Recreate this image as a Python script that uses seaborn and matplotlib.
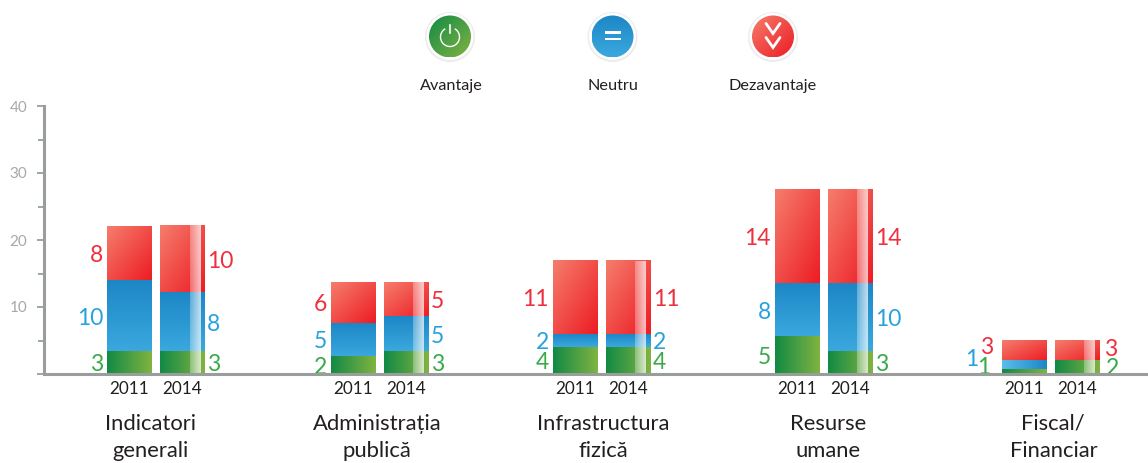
import numpy as np
import pandas as pd
import matplotlib
matplotlib.use("Agg")
import matplotlib.pyplot as plt
from matplotlib.patches import Circle, Arc, Rectangle
from matplotlib.colors import to_rgb
import seaborn as sns

categories = ["Indicatori\ngenerali", "Administrația\npublică", "Infrastructura\nfizică",
              "Resurse\numane", "Fiscal/\nFinanciar"]
years = ["2011", "2014"]
series = ["Avantaje", "Neutru", "Dezavantaje"]

# segment heights (group order, 2011 then 2014)
avantaje_2011 = [3.4, 2.6, 4.0, 5.6, 0.7]
avantaje_2014 = [3.4, 3.4, 4.0, 3.4, 2.0]
neutru_2011 = [10.5, 5.0, 1.9, 7.9, 1.3]
neutru_2014 = [8.7, 5.1, 1.9, 10.1, 0.0]
dezavantaje_2011 = [8.2, 6.1, 10.9, 14.1, 3.1]
dezavantaje_2014 = [10.0, 5.2, 10.9, 14.1, 3.1]

# printed value labels
lab_avantaje_2011 = ["3", "2", "4", "5", "1"]
lab_avantaje_2014 = ["3", "3", "4", "3", "2"]
lab_neutru_2011 = ["10", "5", "2", "8", "1"]
lab_neutru_2014 = ["8", "5", "2", "10", ""]
lab_dezavantaje_2011 = ["8", "6", "11", "14", "3"]
lab_dezavantaje_2014 = ["10", "5", "11", "14", "3"]

W, H = 1148, 463
AX_L, AX_B_PX, AX_T_PX = 44, 374, 106
GROUP_PX = 223.0
group_pos = [0.0, 1.004, 1.999, 2.994, 4.012]
label_shift = [-0.024, -0.012, 0.005, 0.02, 0.012]
HALF_GAP = 26.5 / GROUP_PX

sns.set_theme(style="white")
plt.rcParams["font.family"] = ["Lato", "DejaVu Sans"]

fig = plt.figure(figsize=(W / 100, H / 100), dpi=100, facecolor="white")
ax = fig.add_axes([AX_L / W, (H - AX_B_PX) / H, (W - AX_L) / W, (AX_B_PX - AX_T_PX) / H])

rows = []
stack_2011 = (avantaje_2011, neutru_2011, dezavantaje_2011)
stack_2014 = (avantaje_2014, neutru_2014, dezavantaje_2014)
for g, p in enumerate(group_pos):
    for sign, stack in ((-1, stack_2011), (1, stack_2014)):
        cum = 0.0
        for name, vals in zip(series, stack):
            cum += vals[g]
            rows.append({"pos": p + sign * HALF_GAP, "kind": name, "cum": cum})
df = pd.DataFrame(rows)

GREY = "#999e9d"
palette = {"Avantaje": "#4c9a44", "Neutru": "#2a97d3", "Dezavantaje": "#f0503f"}
sns.barplot(data=df, x="pos", y="cum", hue="kind", hue_order=series[::-1], palette=palette,
            native_scale=True, dodge=False, width=45 / 53, errorbar=None, legend=False,
            saturation=1, ax=ax)

xlim = ((AX_L - 156) / GROUP_PX, (W - 156) / GROUP_PX)


def gradient(tl, br, tr=None, bl=None, n=48):
    tl, br = np.array(to_rgb(tl)), np.array(to_rgb(br))
    tr = (tl + br) / 2 if tr is None else np.array(to_rgb(tr))
    bl = (tl + br) / 2 if bl is None else np.array(to_rgb(bl))
    u, v = np.meshgrid(np.linspace(0, 1, n), np.linspace(0, 1, n))
    u, v = u[..., None], v[..., None]
    return (1 - u) * (1 - v) * tl + u * (1 - v) * tr + (1 - u) * v * bl + u * v * br


grad = {
    "Dezavantaje": gradient("#f57d6c", "#ed1c24"),
    "Neutru": gradient("#1d87c6", "#3aa8de", tr="#1d87c6", bl="#3aa8de"),
    "Avantaje": gradient("#128a45", "#80b341", tr="#80b341", bl="#128a45"),
}
small_blue = gradient("#5bbdea", "#1d87c6", tr="#1d87c6", bl="#5bbdea")

containers = ax.containers
order = series[::-1]
for i, kind in enumerate(order):
    for j, bar in enumerate(containers[i]):
        top = bar.get_height()
        bottom = containers[i + 1][j].get_height() if i + 1 < len(order) else 0.0
        if top - bottom < 1e-6:
            continue
        x0, w = bar.get_x(), bar.get_width()
        img = small_blue if (kind == "Neutru" and top - bottom < 1.5) else grad[kind]
        ax.imshow(img, extent=(x0, x0 + w, bottom, top), aspect="auto", origin="upper", zorder=3)

# glossy band over the 2014 bars
band = np.ones((2, 32, 4))
band[..., 3] = np.linspace(0.3, 0.72, 32)
red = containers[0]
for j in range(1, len(red), 2):
    bar = red[j]
    x0, w = bar.get_x(), bar.get_width()
    ax.imshow(band, extent=(x0 + w * 29.5 / 45, x0 + w * 40.5 / 45, 0, bar.get_height()),
              aspect="auto", zorder=4)

# value labels
colors = {"Avantaje": "#39a94a", "Neutru": "#27a3dc", "Dezavantaje": "#ee2f3e"}
labels_2011 = {"Avantaje": lab_avantaje_2011, "Neutru": lab_neutru_2011, "Dezavantaje": lab_dezavantaje_2011}
labels_2014 = {"Avantaje": lab_avantaje_2014, "Neutru": lab_neutru_2014, "Dezavantaje": lab_dezavantaje_2014}
overrides = {  # (group, bar, series): pixel offset from the default spot
    (4, 0, "Avantaje"): (-7, -6),
    (4, 0, "Neutru"): (-19, -7),
    (4, 0, "Dezavantaje"): (-4, -5),
    (4, 1, "Avantaje"): (4, -1),
    (4, 1, "Dezavantaje"): (2, -3),
}
for i, kind in enumerate(order):
    for j, bar in enumerate(containers[i]):
        g, b = j // 2, j % 2
        text = (labels_2014 if b else labels_2011)[kind][g]
        if not text:
            continue
        top = bar.get_height()
        bottom = containers[i + 1][j].get_height() if i + 1 < len(order) else 0.0
        ox, oy = overrides.get((g, b, kind), (0, 0))
        x = bar.get_x() + (bar.get_width() if b else 0)
        ax.annotate(text, xy=(x, (top + bottom) / 2),
                    xytext=(((2 if b else -4) + ox) * 0.72, -oy * 0.72), textcoords="offset points",
                    ha="left" if b else "right", va="center_baseline", fontsize=16.5,
                    color=colors[kind], annotation_clip=False, zorder=6)

# axes
ax.set_xlim(*xlim)
ax.set_ylim(0, 40)
ax.set_xlabel("")
ax.set_ylabel("")
for s in ("top", "right"):
    ax.spines[s].set_visible(False)
for s in ("left", "bottom"):
    ax.spines[s].set_color(GREY)
    ax.spines[s].set_linewidth(2.2)
    ax.spines[s].set_zorder(7)
ax.set_yticks([0, 10, 20, 30, 40])
ax.set_yticklabels(["", "10", "20", "30", "40"])
ax.set_yticks([5, 15, 25, 35], minor=True)
ax.tick_params(axis="y", which="major", length=5, width=1.3, color=GREY, left=True,
               labelsize=11, labelcolor="#a6a8ab", pad=7)
ax.tick_params(axis="y", which="minor", length=4, width=1.3, color=GREY, left=True)
xt = [p + s * HALF_GAP for p in group_pos for s in (-1, 1)]
ax.set_xticks(xt)
ax.set_xticklabels(years * len(group_pos), fontsize=12.3, color="#231f20")
ax.tick_params(axis="x", length=0, pad=5)
ax.patch.set_alpha(0)

# category names
trans = ax.get_xaxis_transform()
for p, s, name in zip(group_pos, label_shift, categories):
    ax.text(p + s, -63.5 / 268, name, transform=trans, ha="center", va="center",
            fontsize=15.8, color="#231f20", linespacing=1.47, clip_on=False)

# legend icons
ov = fig.add_axes([0, 0, 1, 1], zorder=10)
ov.set_xlim(0, W)
ov.set_ylim(H, 0)
ov.axis("off")
ov.patch.set_alpha(0)
icon_x = [450, 612.5, 773]
icon_y = 36.5
icon_grad = [gradient("#128a45", "#80b341"), gradient("#1d87c6", "#3aa8de", tr="#1d87c6", bl="#3aa8de"),
             gradient("#f57d6c", "#ed1c24")]
for k, (cx, img, name) in enumerate(zip(icon_x, icon_grad, series)):
    ov.add_patch(Circle((cx, icon_y + 0.5), 25, fc="#ececec", ec="none", zorder=1))
    ov.add_patch(Circle((cx, icon_y), 23.5, fc="white", ec="none", zorder=2))
    im = ov.imshow(img, extent=(cx - 21, cx + 21, icon_y + 21, icon_y - 21), aspect="auto",
                   origin="upper", zorder=3)
    im.set_clip_path(Circle((cx, icon_y), 21, transform=ov.transData))
    ov.text(cx + (1 if k == 0 else 0), 86, name, ha="center", va="center", fontsize=11.7, color="#231f20")

cx = icon_x[0]
ov.add_patch(Arc((cx, icon_y + 0.5), 19, 19, theta1=-60, theta2=240, color="white", lw=1, zorder=5))
ov.add_patch(Rectangle((cx - 1.2, icon_y - 13), 2.4, 10, fc="white", ec="#5aa444", lw=0.3, zorder=6))
cx = icon_x[1]
ov.add_patch(Rectangle((cx - 8, icon_y - 5.5), 16, 2.6, fc="white", ec="none", zorder=5))
ov.add_patch(Rectangle((cx - 8, icon_y + 1), 16, 2.6, fc="white", ec="none", zorder=5))
cx = icon_x[2]
for dy in (-13, 1):
    ov.plot([cx - 7, cx, cx + 7], [icon_y + dy, icon_y + dy + 10, icon_y + dy], color="white", lw=2,
            solid_joinstyle="miter", zorder=5)
ov.set_xlim(0, W)
ov.set_ylim(H, 0)

fig.savefig("out.png", dpi=100, facecolor="white")
